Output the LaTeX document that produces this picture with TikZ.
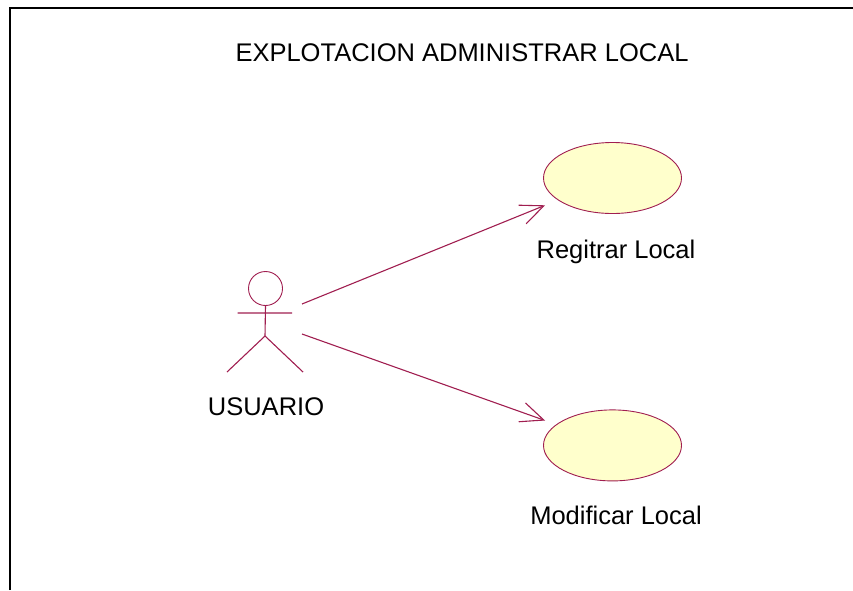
\documentclass[tikz,border=0pt]{standalone}
\usepackage{fontspec}
\setmainfont{Liberation Sans}
\usetikzlibrary{positioning, arrows.meta, shapes.geometric}
\definecolor{umlline}{RGB}{160,30,80}
\definecolor{umlfill}{RGB}{255,255,204}

\begin{document}
\begin{tikzpicture}[x=1pt,y=-1pt,>={Straight Barb[length=23pt,width=20pt]},node distance=230pt]
       \tikzstyle{every node}=[font=\fontsize{25.5}{30}\selectfont,text=black]
       \tikzstyle{usecase}=[ellipse,draw=umlline,fill=umlfill,line width=0.9pt,minimum width=138pt,minimum height=71pt,inner sep=0pt]
       \tikzstyle{caption}=[text height=18pt,text depth=5pt,inner sep=0pt]
       \tikzstyle{limb}=[draw=umlline,line width=1.1pt]

       \useasboundingbox (0,0) rectangle (853,590);

       % frame
       \draw[line width=2pt] (10,590) -- (10,7.5) -- (853,7.5);
       \node (T) at (462,53) {EXPLOTACION ADMINISTRAR LOCAL};

       % use cases
       \node[usecase] (R) at (612.5,178) {};
       \node[usecase] (M) [below=195.5pt of R] {};
       \node[caption] (RL) [below=26.5pt of R, xshift=3.5pt] {Regitrar Local};
       \node[caption] (ML) [below=25pt of M, xshift=3.5pt] {Modificar Local};

       % actor
       \node[circle,draw=umlline,line width=0.9pt,minimum size=34pt,inner sep=0pt] (H) at (265.5,288.5) {};
       \coordinate (C) at (265,336);
       \coordinate (AL) at (237.5,313);
       \coordinate (AR) at (292,313);
       \coordinate (FL) at (227,372);
       \coordinate (FR) at (303,372);
       \node (U) at (266,407) {USUARIO};
       \path[limb] (H.south) -- (C) (AL) -- (AR) (FL) -- (C) -- (FR);

       % associations
       \coordinate (A1) at (302,304);
       \coordinate (A2) at (302,334);
       \coordinate (E1) at ([xshift=2pt,yshift=-27.3pt]R.west);
       \coordinate (E2) at ([xshift=2pt,yshift=24.9pt]M.west);
       \draw[->,limb] (A1) -- (E1);
       \draw[->,limb] (A2) -- (E2);
\end{tikzpicture}
\end{document}
